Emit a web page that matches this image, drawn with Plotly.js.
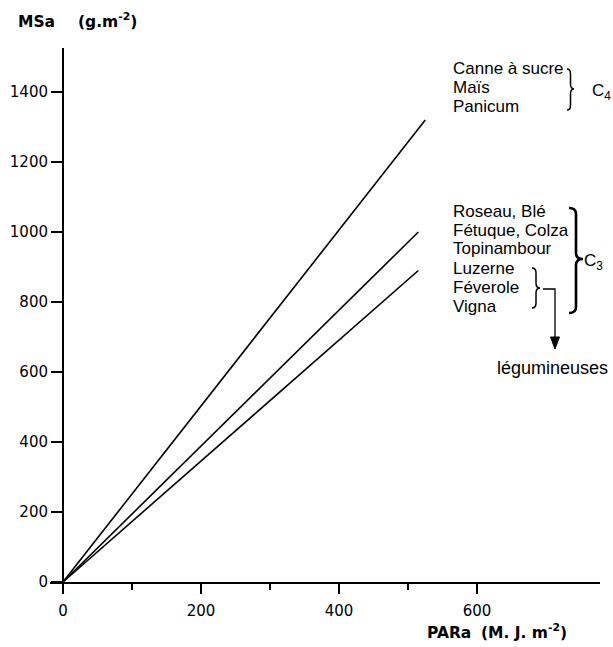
<!DOCTYPE html>
<html>
<head>
<meta charset="utf-8">
<script src="https://cdn.plot.ly/plotly-3.0.1.min.js"></script>
<style>html,body{margin:0;padding:0;background:#fff;}#chart{width:613px;height:647px;}</style>
</head>
<body>
<div id="chart"></div>
<script>
// ---- data ----
const lineNames = ['C4', 'C3', 'Légumineuses'];
const parStart = [0, 0, 0];          // PARa (MJ m-2)
const msaStart = [0, 0, 0];          // MSa (g m-2)
const parEnd = [525, 515, 515];
const msaEnd = [1320, 1000, 890];
const xTicks = [0, 200, 400, 600];
const xMinorTicks = [100, 300, 500];
const yTicks = [0, 200, 400, 600, 800, 1000, 1200, 1400];

const C4Species = ['Canne à sucre', 'Maïs', 'Panicum'];
const C3Species = ['Roseau, Blé', 'Fétuque, Colza', 'Topinambour', 'Luzerne', 'Féverole', 'Vigna'];

// ---- layout geometry (pixels) ----
const W = 613, H = 647;
const L = 50, R = 13, T = 48, B = 57;
const pw = W - L - R, ph = H - T - B;
const px = x => (x - L) / pw;
const py = y => (H - B - y) / ph;

const traces = lineNames.map((n, i) => ({
  type: 'scatter', mode: 'lines', name: n,
  x: [parStart[i], parEnd[i]], y: [msaStart[i], msaEnd[i]],
  line: {color: '#000', width: 1.6}, hoverinfo: 'skip'
}));

const textFont = {family: 'Liberation Sans, Arial, sans-serif', size: 17, color: '#000'};
const annotations = [];
function addText(text, x, y, xanchor, font) {
  annotations.push({xref: 'paper', yref: 'paper', x: px(x), y: py(y), text: text,
    showarrow: false, xanchor: xanchor || 'left', yanchor: 'middle', font: font || textFont});
}
C4Species.forEach((s, i) => addText(s, 451, 68 + i * 19.5));
C3Species.forEach((s, i) => addText(s, 451, 211 + i * 19));
addText('C<sub>4</sub>', 590, 92);
addText('C<sub>3</sub>', 582, 262);
addText('légumineuses', 552, 368, 'center', {family: 'Liberation Sans, Arial, sans-serif', size: 18, color: '#000'});

const titleFont = {family: 'DejaVu Sans, sans-serif', size: 15.5, color: '#000', weight: 'bold'};
addText('<b>MSa</b>', 16, 22, 'left', titleFont);
addText('<b>(g.m<sup>-2</sup>)</b>', 76, 20, 'left', titleFont);
addText('<b>PARa</b>', 425, 633, 'left', titleFont);
addText('<b>(M. J. m<sup>-2</sup>)</b>', 479, 631, 'left', titleFont);

function brace(x, y0, y1, w, ym) {
  ym = ym === undefined ? (y0 + y1) / 2 : ym;
  const xm = x + w / 2, q = Math.min(6, (y1 - y0) / 8);
  const P = (a, b) => px(a).toFixed(5) + ',' + py(b).toFixed(5);
  return 'M' + P(x, y0) + ' Q' + P(xm, y0) + ' ' + P(xm, y0 + q) +
    ' L' + P(xm, ym - q) + ' Q' + P(xm, ym) + ' ' + P(x + w, ym) +
    ' Q' + P(xm, ym) + ' ' + P(xm, ym + q) +
    ' L' + P(xm, y1 - q) + ' Q' + P(xm, y1) + ' ' + P(x, y1);
}
const P2 = (a, b) => px(a).toFixed(5) + ',' + py(b).toFixed(5);
const shapes = [
  {type: 'path', xref: 'paper', yref: 'paper', path: brace(567, 69, 110, 7, 89), line: {color: '#000', width: 1.5}},
  {type: 'path', xref: 'paper', yref: 'paper', path: brace(569, 208, 313, 14, 259), line: {color: '#000', width: 2.6}},
  {type: 'path', xref: 'paper', yref: 'paper', path: brace(532, 268, 308, 8, 288), line: {color: '#000', width: 1.5}},
  {type: 'path', xref: 'paper', yref: 'paper', path: 'M' + P2(543, 289) + ' L' + P2(555, 289) + ' L' + P2(555, 339), line: {color: '#000', width: 1.3}},
  {type: 'path', xref: 'paper', yref: 'paper', path: 'M' + P2(550.5, 337) + ' L' + P2(559.5, 337) + ' L' + P2(555, 349) + ' Z', fillcolor: '#000', line: {color: '#000', width: 1}}
];

const xr = [(L - 63) / 0.69, (W - R - 63) / 0.69];
const yr = [(582 - (H - B)) / 0.35, (582 - T) / 0.35];

const tickFont = {family: 'DejaVu Sans, sans-serif', size: 15, color: '#000'};
const layout = {
  width: W, height: H,
  margin: {l: L, r: R, t: T, b: B, pad: 0},
  paper_bgcolor: '#fff', plot_bgcolor: '#fff',
  showlegend: false,
  xaxis: {
    range: xr, anchor: 'free', position: py(582),
    showgrid: false, zeroline: false, showline: true, linecolor: '#000', linewidth: 1.6,
    ticks: 'outside', ticklen: 10, tickwidth: 1.5, tickcolor: '#000',
    tickmode: 'array', tickvals: xTicks, ticktext: xTicks.map(String),
    tickfont: tickFont, ticklabelstandoff: 4,
    minor: {tickmode: 'array', tickvals: xMinorTicks, ticks: 'outside', ticklen: 6, tickwidth: 1.5, tickcolor: '#000', showgrid: false}
  },
  yaxis: {
    range: yr, anchor: 'free', position: px(62),
    showgrid: false, zeroline: false, showline: true, linecolor: '#000', linewidth: 1.6,
    ticks: 'outside', ticklen: 11, tickwidth: 1.5, tickcolor: '#000',
    tickmode: 'array', tickvals: yTicks, ticktext: yTicks.map(String),
    tickfont: tickFont
  },
  annotations: annotations,
  shapes: shapes
};

Plotly.newPlot('chart', traces, layout, {staticPlot: true, displayModeBar: false});
</script>
</body>
</html>
